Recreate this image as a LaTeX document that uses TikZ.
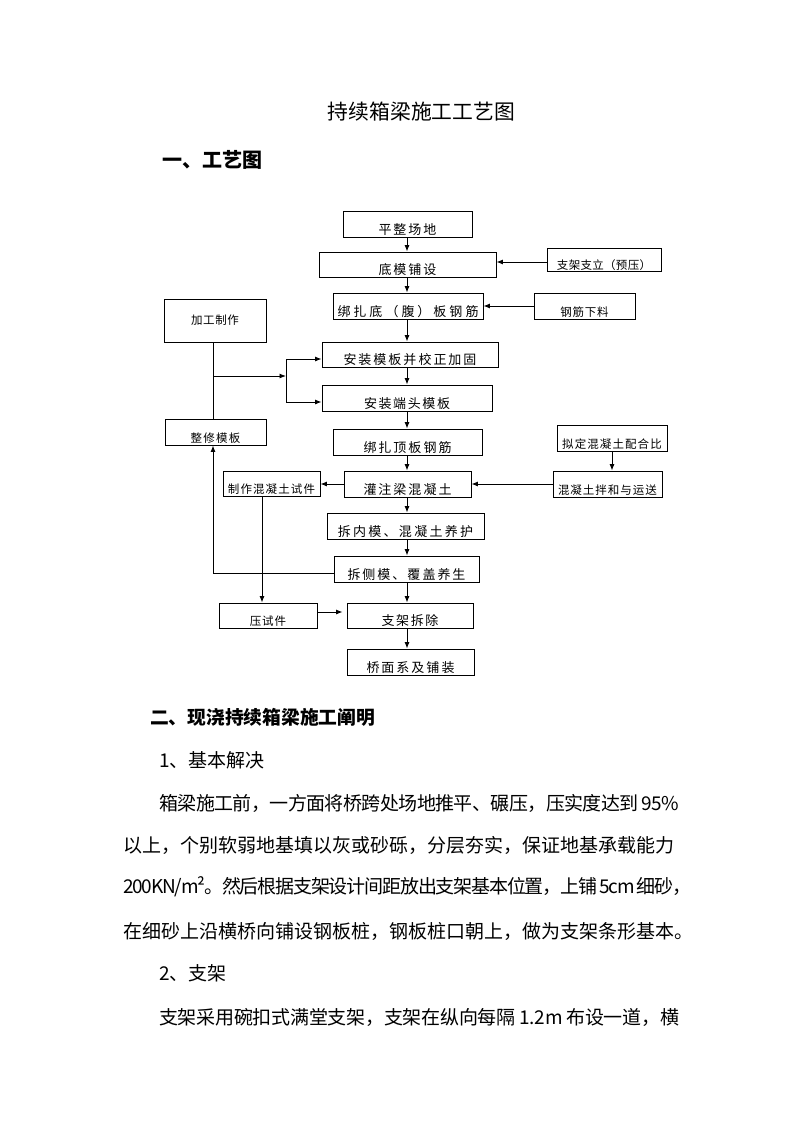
\documentclass[tikz,border=0pt]{standalone}
\usepackage{fontspec}
\setmainfont{Noto Sans CJK SC}
\usetikzlibrary{arrows.meta}
\ExplSyntaxOn
\NewDocumentCommand\spreadtext{m m}{
  \bool_set_false:N \l_tmpa_bool
  \tl_map_inline:nn {#2}{ \bool_if:NT \l_tmpa_bool {#1} \bool_set_true:N \l_tmpa_bool ##1 }
}
\ExplSyntaxOff
\newcommand\lsp[2]{\spreadtext{\hspace{#1}}{#2}}
\newcommand\jline[2]{\hbox to #1{\spreadtext{\hskip 0pt plus 1fil minus 1fil}{#2}}}
\newcommand\fa{\fontsize{13pt}{13pt}\selectfont}
\newcommand\fb{\fontsize{11.5pt}{11.5pt}\selectfont}
\newcommand\fbody{\fontsize{19pt}{19pt}\selectfont}
\begin{document}
\begin{tikzpicture}[x=1pt,y=-1pt,
  bx/.style={draw, line width=0.9pt, inner sep=0pt, text depth=2.3pt},
  arr/.style={line width=0.9pt, -{Latex[length=6.5pt,width=5pt]}},
  ln/.style={line width=0.9pt},
  txt/.style={inner sep=0pt, anchor=west}]
\fill[white] (0,0) rectangle (800,1132);
\path[use as bounding box] (0,0) rectangle (800,1132);

% titles
\node[inner sep=0pt, font=\fontsize{20.8pt}{21pt}\selectfont] (title) at (421.5,112) {持续箱梁施工工艺图};
\node[txt, font=\fontsize{20pt}{20pt}\selectfont\bfseries] (sec1) at (162,160) {一、工艺图};

% column coordinates
\coordinate (col) at (407,0);
\coordinate (lx) at (213,0);
\coordinate (tx) at (262,0);
\coordinate (jn) at (286,376);

% flowchart boxes
\node[bx, minimum width=129pt, text height=23.7pt, font=\fa] (pzcd) at (407.5,224) {\lsp{2pt}{平整场地}};
\node[bx, minimum width=177pt, text height=22.7pt, font=\fa] (dmps) at (407.5,264.5) {\lsp{2pt}{底模铺设}};
\node[bx, minimum width=114pt, text height=21.8pt, text depth=1.2pt, font=\fb] (zjzl) at (604,259.5) {\lsp{0.3pt}{支架支立（预压）}};
\node[bx, minimum width=150pt, text height=23.7pt, font=\fa] (bzdb) at (408,306) {\lsp{3pt}{绑扎底（腹）板钢筋}};
\node[bx, minimum width=101pt, text height=23.7pt, font=\fb] (gjxl) at (584.5,306) {\lsp{0.8pt}{钢筋下料}};
\node[bx, minimum width=102pt, minimum height=43pt, font=\fb] (jgzz) at (215,320.5) {\lsp{0.6pt}{加工制作}};
\node[bx, minimum width=176pt, text height=22.7pt, font=\fa] (azmb) at (410,354.5) {\lsp{2pt}{安装模板并校正加固}};
\node[bx, minimum width=170pt, text height=23.7pt, font=\fa] (azdt) at (407,398) {\lsp{1.6pt}{安装端头模板}};
\node[bx, minimum width=101pt, text height=23.7pt, font=\fb] (zxmb) at (215.5,432) {\lsp{1.2pt}{整修模板}};
\node[bx, minimum width=149pt, text height=23.7pt, font=\fa] (bzdb2) at (407.5,442) {\lsp{2pt}{绑扎顶板钢筋}};
\node[bx, minimum width=110pt, text height=23.7pt, font=\fb] (ndpb) at (612,438) {\lsp{1.1pt}{拟定混凝土配合比}};
\node[bx, minimum width=109pt, text height=23.7pt, font=\fb] (hnbh) at (607.5,484) {\lsp{1pt}{混凝土拌和与运送}};
\node[bx, minimum width=127pt, text height=23.7pt, font=\fa] (gzl) at (407.5,484) {\lsp{2pt}{灌注梁混凝土}};
\node[bx, minimum width=97pt, text height=22.7pt, font=\fb] (zzsj) at (271.5,483.5) {\lsp{1.1pt}{制作混凝土试件}};
\node[bx, minimum width=157pt, text height=23.7pt, font=\fa] (cnm) at (405.5,526) {\lsp{2.3pt}{拆内模、混凝土养护}};
\node[bx, minimum width=145pt, text height=23.7pt, font=\fa] (ccm) at (406.5,569) {\lsp{2pt}{拆侧模、覆盖养生}};
\node[bx, minimum width=98pt, text height=22.7pt, font=\fb] (ysj) at (268,615.5) {\lsp{0.8pt}{压试件}};
\node[bx, minimum width=126pt, text height=22.7pt, font=\fa] (zjcc) at (410,615.5) {\lsp{1.6pt}{支架拆除}};
\node[bx, minimum width=127pt, text height=23.7pt, font=\fa] (qmx) at (410.5,662) {\lsp{2pt}{桥面系及铺装}};

% helper coordinates on box edges
\coordinate (za) at ([yshift=-2.5pt]zjzl.west);
\coordinate (ma) at ([yshift=-4.5pt]azmb.west);
\coordinate (mb) at ([yshift=-4pt]azdt.west);
\coordinate (cw) at ([yshift=-4pt]ccm.west);
\coordinate (ye) at ([yshift=3.5pt]ysj.east);
\coordinate (zw) at ([yshift=3.5pt]zjcc.west);

% main column arrows
\draw[arr] (pzcd.south -| col) -- (dmps.north -| col);
\draw[arr] (dmps.south -| col) -- (bzdb.north -| col);
\draw[arr] (bzdb.south -| col) -- (azmb.north -| col);
\draw[arr] (azmb.south -| col) -- (azdt.north -| col);
\draw[arr] (azdt.south -| col) -- (bzdb2.north -| col);
\draw[arr] (bzdb2.south -| col) -- (gzl.north -| col);
\draw[arr] (gzl.south -| col) -- (cnm.north -| col);
\draw[arr] (cnm.south -| col) -- (ccm.north -| col);
\draw[arr] (ccm.south -| col) -- (zjcc.north -| col);
\draw[arr] (zjcc.south -| col) -- (qmx.north -| col);

% side inputs
\draw[arr] (za) -- (dmps.east |- za);
\draw[arr] (gjxl.west) -- (bzdb.east |- gjxl.west);
\draw[arr] (ndpb.south) -- (ndpb.south |- hnbh.north);
\draw[arr] (hnbh.west) -- (gzl.east |- hnbh.west);
\draw[arr] (gzl.west) -- (zzsj.east |- gzl.west);

% left loop
\draw[ln] (jgzz.south -| lx) -- (zxmb.north -| lx);
\draw[arr] (jn -| lx) -- (jn);
\draw[arr] (jn) |- (ma);
\draw[arr] (jn) |- (mb);
\draw[arr] (cw) -| (zxmb.south -| lx);
\draw[arr] (zzsj.south -| tx) -- (ysj.north -| tx);
\draw[arr, shorten <=1pt, shorten >=4pt] (ye) -- (zw);

% section two text
\node[txt, font=\fontsize{18.75pt}{19pt}\selectfont\bfseries] (sec2) at (150,717) {二、现浇持续箱梁施工阐明};
\node[txt, font=\fbody] (sub1) at (159,760) {1、基本解决};
\node[txt, font=\fbody] (p1) at (159,803) {\jline{520pt}{箱梁施工前，一方面将桥跨处场地推平、碾压，压实度达到{\ }95\%}};
\node[txt, font=\fbody] (p2) at (123,845) {\jline{551pt}{以上，个别软弱地基填以灰或砂砾，分层夯实，保证地基承载能力}};
\node[txt, font=\fbody] (p3) at (123,887) {\jline{568pt}{200KN/m²。然后根据支架设计间距放出支架基本位置，上铺{\ }5cm{\ }细砂，}};
\node[txt, font=\fbody] (p4) at (123,931) {\jline{570pt}{在细砂上沿横桥向铺设钢板桩，钢板桩口朝上，做为支架条形基本。}};
\node[txt, font=\fbody] (sub2) at (159,973) {2、支架};
\node[txt, font=\fbody] (p5) at (159,1017) {\jline{520pt}{支架采用碗扣式满堂支架，支架在纵向每隔{\ }1.2m{\ }布设一道，横}};
\end{tikzpicture}
\end{document}
